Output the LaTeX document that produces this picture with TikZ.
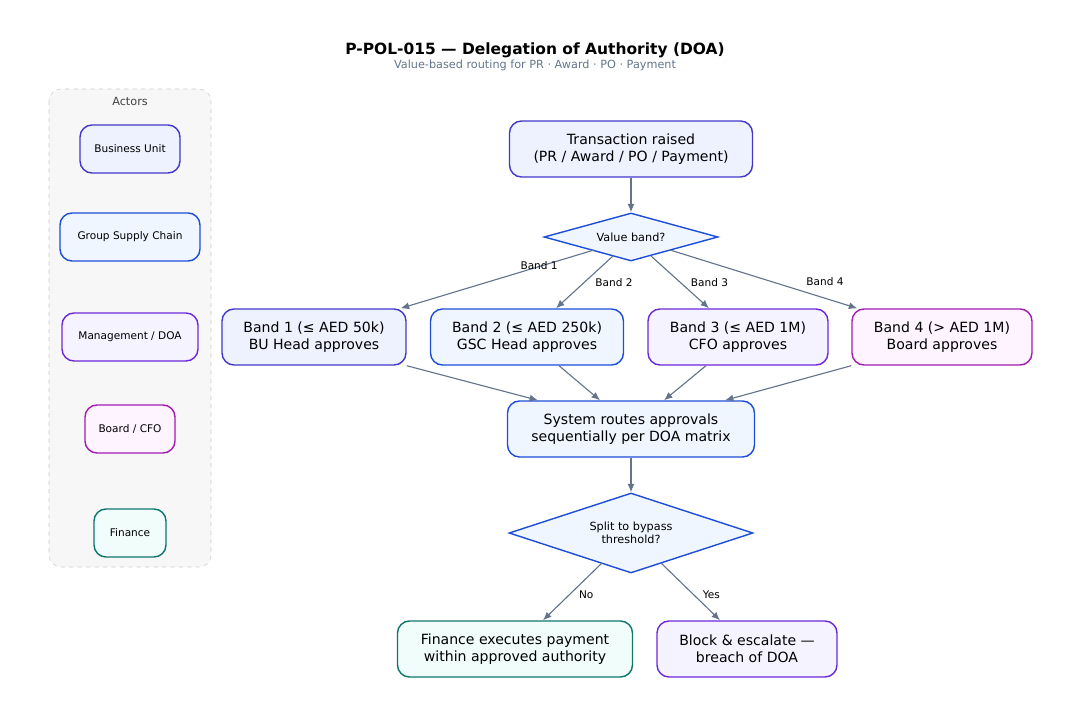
\documentclass[tikz,border=0pt]{standalone}
\usepackage{fontspec}
\setmainfont{DejaVu Sans}
\usetikzlibrary{shapes.geometric,calc,arrows.meta}

\definecolor{edgegray}{HTML}{64748B}
\definecolor{indigoline}{HTML}{4338CA}\definecolor{indigofill}{HTML}{EEF2FF}
\definecolor{blueline}{HTML}{1D4ED8}\definecolor{bluefill}{HTML}{EFF6FF}
\definecolor{purpleline}{HTML}{6D28D9}\definecolor{purplefill}{HTML}{F5F3FF}
\definecolor{magline}{HTML}{A21CAF}\definecolor{magfill}{HTML}{FDF4FF}
\definecolor{tealline}{HTML}{0F766E}\definecolor{tealfill}{HTML}{F0FDFA}

\tikzset{
  box/.style={draw, line width=1pt, rounded corners=0.3cm, align=center,
    inner sep=0pt, font=\fontsize{10}{12}\selectfont},
  actor/.style={box, font=\fontsize{7.5}{9}\selectfont},
  test/.style={draw, line width=1pt, diamond, aspect=2, inner sep=0pt, align=center,
    font=\fontsize{8}{9.5}\selectfont},
  indigo/.style={draw=indigoline, fill=indigofill},
  blue/.style={draw=blueline, fill=bluefill},
  purple/.style={draw=purpleline, fill=purplefill},
  mag/.style={draw=magline, fill=magfill},
  teal/.style={draw=tealline, fill=tealfill},
  flow/.style={draw=edgegray, line width=0.8pt, -{Latex[length=6pt,width=5pt]}},
  tag/.style={font=\fontsize{7.5}{9}\selectfont, text=black}
}

\begin{document}
\begin{tikzpicture}[x=0.025cm, y=-0.025cm]
  \useasboundingbox (0,0) rectangle (1071,715);

  % title
  \node[font=\bfseries\fontsize{11}{13}\selectfont] (title) at (535,50) {P-POL-015 — Delegation of Authority (DOA)};
  \node[font=\fontsize{8}{10}\selectfont, text=edgegray] (sub) at (535,65) {Value-based routing for PR · Award · PO · Payment};

  % actors panel
  \draw[draw=black!20, fill=black!3, dashed, rounded corners=0.3cm] (49,89) rectangle (211,567);
  \node[font=\fontsize{8}{10}\selectfont, text=black!75] (actors) at (130,101) {Actors};
  \node[actor, indigo, minimum width=100*0.025cm, minimum height=48*0.025cm] (bu) at (130,149) {Business Unit};
  \node[actor, blue, minimum width=140*0.025cm, minimum height=48*0.025cm] (gsc) at (130,237) {Group Supply Chain};
  \node[actor, purple, minimum width=136*0.025cm, minimum height=48*0.025cm] (mgmt) at (130,337) {Management / DOA};
  \node[actor, mag, minimum width=90*0.025cm, minimum height=48*0.025cm] (board) at (130,429) {Board / CFO};
  \node[actor, teal, minimum width=72*0.025cm, minimum height=48*0.025cm] (fin) at (130,533) {Finance};

  % main flow
  \node[box, indigo, minimum width=243*0.025cm, minimum height=56*0.025cm] (txn) at (631,149) {Transaction raised\\(PR / Award / PO / Payment)};
  \node[test, blue, minimum width=174*0.025cm, minimum height=48*0.025cm] (band) at (631,237) {Value band?};
  \node[box, indigo, minimum width=184*0.025cm, minimum height=56*0.025cm] (b1) at (314,337) {Band 1 (≤ AED 50k)\\BU Head approves};
  \node[box, blue, minimum width=193*0.025cm, minimum height=56*0.025cm] (b2) at (527,337) {Band 2 (≤ AED 250k)\\GSC Head approves};
  \node[box, purple, minimum width=180*0.025cm, minimum height=56*0.025cm] (b3) at (738,337) {Band 3 (≤ AED 1M)\\CFO approves};
  \node[box, mag, minimum width=180*0.025cm, minimum height=56*0.025cm] (b4) at (942,337) {Band 4 (> AED 1M)\\Board approves};
  \node[box, blue, minimum width=247*0.025cm, minimum height=56*0.025cm] (route) at (631,429) {System routes approvals\\sequentially per DOA matrix};
  \node[test, blue, minimum width=244*0.025cm, minimum height=80*0.025cm] (split) at (631,533) {Split to bypass\\threshold?};
  \node[box, teal, minimum width=235*0.025cm, minimum height=56*0.025cm] (pay) at (515,649) {Finance executes payment\\within approved authority};
  \node[box, purple, minimum width=180*0.025cm, minimum height=56*0.025cm] (block) at (747,649) {Block \& escalate —\\breach of DOA};

  % connectors
  \draw[flow] (txn) -- (band);
  \draw[flow] ($(band)+(-37,13)$) -- ($(b1.north east)+(-6,0)$) node[tag, pos=0.4, above right=-1pt] {Band 1};
  \draw[flow] ($(band)+(-18,19)$) -- ($(b2.north)+(29,0)$) node[tag, pos=0.5, right=4pt] {Band 2};
  \draw[flow] ($(band)+(20,19)$) -- ($(b3.north)+(-29,0)$) node[tag, pos=0.5, right=4pt] {Band 3};
  \draw[flow] ($(band)+(39,13)$) -- ($(b4.north west)+(6,0)$) node[tag, pos=0.7, above right=0pt] {Band 4};
  \draw[flow] ($(b1.south east)$) -- ($(route.north)+(-93,0)$);
  \draw[flow] ($(b2.south)+(32,0)$) -- ($(route.north)+(-31,0)$);
  \draw[flow] ($(b3.south)+(-32,0)$) -- ($(route.north)+(33,0)$);
  \draw[flow] ($(b4.south west)$) -- ($(route.north)+(94,0)$);
  \draw[flow] (route) -- (split);
  \draw[flow] ($(split)+(-29,30)$) -- ($(pay.north)+(28,0)$) node[tag, pos=0.55, right=3pt] {No};
  \draw[flow] ($(split)+(30,30)$) -- ($(block.north)+(-27,0)$) node[tag, pos=0.55, right=3pt] {Yes};
\end{tikzpicture}
\end{document}
